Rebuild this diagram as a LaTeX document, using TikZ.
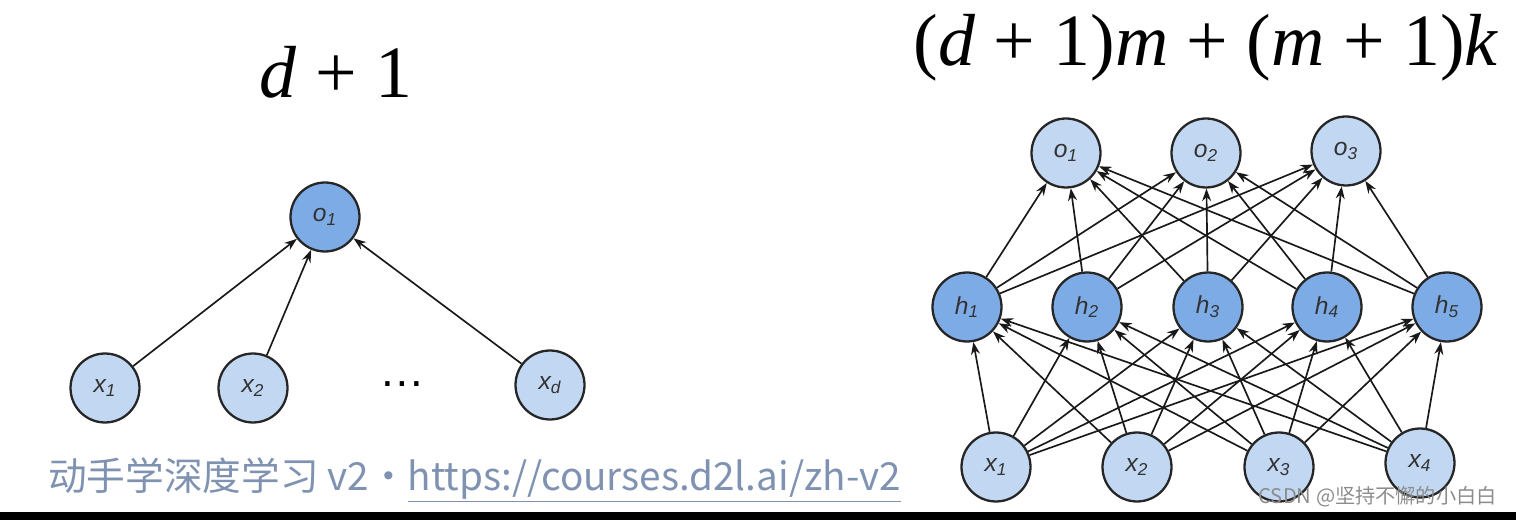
\documentclass[tikz,border=0pt]{standalone}
\usepackage{fontspec}
\setmainfont{Liberation Serif}
\setsansfont{Liberation Sans}
\newfontfamily\cjkfont{Noto Sans CJK SC}
\usepackage{xcolor}
\usetikzlibrary{arrows.meta, positioning}

\definecolor{hidblue}{RGB}{125,171,230}
\definecolor{inblue}{RGB}{194,215,242}
\definecolor{markgray}{RGB}{128,146,178}

\newcommand{\neur}[2]{\textsf{\textit{#1\textsubscript{#2}}}}

\begin{document}
\begin{tikzpicture}[
    x=0.02cm, y=-0.02cm,
    unit/.style={circle, draw=black!85, line width=1.3pt, minimum size=1.38cm, inner sep=0pt, font=\fontsize{14}{14}\selectfont, text=black!80},
    inunit/.style={unit, fill=inblue},
    hidunit/.style={unit, fill=hidblue},
    outunit/.style={unit, fill=inblue},
    arr/.style={-{Stealth[length=2.5mm, width=1.8mm]}, line width=0.95pt, black!90},
    title/.style={font=\fontsize{42}{44}\selectfont},
]
    \useasboundingbox (0,0) rectangle (1516,520);
    \fill[black] (0,512) rectangle (1516,520);

    % single output
    \node[title] (ltitle) at (336,72) {\textit{d} + 1};
    \node[hidunit] (lo) at (325,217) {\neur{o}{1}};
    \node[inunit] (lx1) at (105,388) {\neur{x}{1}};
    \node[inunit] (lx2) at (253,388) {\neur{x}{2}};
    \node[font=\fontsize{26}{26}\selectfont] (ldots) at (402,384) {\textsf{\dots}};
    \node[inunit] (lxd) at (550,385) {\neur{x}{d}};

    \draw[arr] (lx1) -- (lo);
    \draw[arr] (lx2) -- (lo);
    \draw[arr] (lxd) -- (lo);

    % multilayer perceptron
    \node[title] (rtitle) at (1206,48) {(\textit{d} + 1)\textit{m} + (\textit{m} + 1)\textit{k}};
    \node[outunit] (o1) at (1066,153) {\neur{o}{1}};
    \node[outunit] (o2) at (1206,153) {\neur{o}{2}};
    \node[outunit] (o3) at (1346,151) {\neur{o}{3}};
    \node[hidunit] (h1) at (967,307) {\neur{h}{1}};
    \node[hidunit] (h2) at (1087,307) {\neur{h}{2}};
    \node[hidunit] (h3) at (1208,307) {\neur{h}{3}};
    \node[hidunit] (h4) at (1327,307) {\neur{h}{4}};
    \node[hidunit] (h5) at (1447,307) {\neur{h}{5}};
    \node[inunit] (x1) at (996,467) {\neur{x}{1}};
    \node[inunit] (x2) at (1137,467) {\neur{x}{2}};
    \node[inunit] (x3) at (1279,467) {\neur{x}{3}};
    \node[inunit] (x4) at (1420,463) {\neur{x}{4}};

    \foreach \i in {1,...,4}
        \foreach \j in {1,...,5}
            \draw[arr] (x\i) -- (h\j);
    \foreach \j in {1,...,5}
        \foreach \k in {1,2,3}
            \draw[arr] (h\j) -- (o\k);

    % watermarks
    \node[anchor=west, text=markgray, font=\fontsize{22}{22}\selectfont] (course) at (42,480)
        {\cjkfont 动手学深度学习 v2・\underline{https://courses.d2l.ai/zh-v2}};
    \node[anchor=east, text=black!45, font=\fontsize{11.5}{12}\selectfont] (csdn) at (1503,497)
        {\cjkfont CSDN @坚持不懈的小白白};
\end{tikzpicture}
\end{document}
